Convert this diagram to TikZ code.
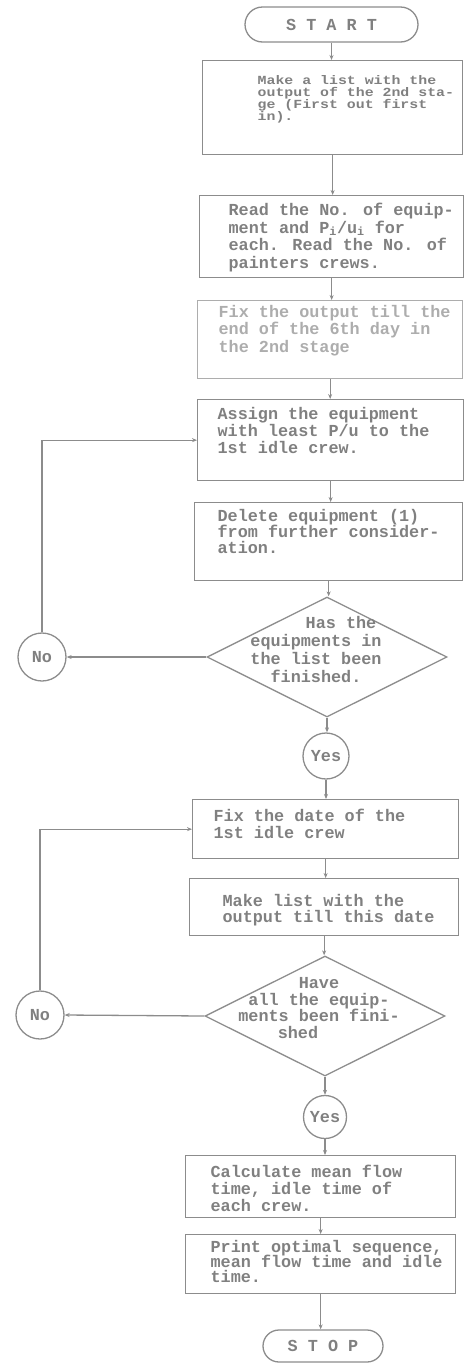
\documentclass[tikz,border=0pt]{standalone}
\usepackage{fontspec}
\newfontfamily\dmfont{Liberation Mono}[BoldFont={Liberation Mono Bold}]
\newfontfamily\dmwide{Liberation Mono}[FakeStretch=1.2]
\usetikzlibrary{shapes.geometric,shapes.misc,arrows.meta}
\definecolor{ink}{gray}{0.55}
\definecolor{txt}{gray}{0.5}
\definecolor{pale}{gray}{0.68}
% width, height, first baseline from top, left inset, font size, baselineskip, text
\newcommand{\bxt}[7]{%
  \parbox[c][#2][t]{#1}{\fontsize{#5}{#6}\selectfont\lineskiplimit=-100pt
    \vspace*{\dimexpr#3-13pt\relax}\leftskip=#4\relax\rightskip=0pt plus 1fil
    \parfillskip=0pt plus 1fil\parindent=0pt\noindent\rule{0pt}{13pt}#7}}
\tikzset{
  every node/.style={font=\dmfont\bfseries, text=txt},
  proc/.style={draw=ink, line width=1.3pt, inner sep=0pt, anchor=north west},
  term/.style={draw=ink, line width=1.3pt, rounded rectangle, inner sep=0pt,
    font=\dmfont\bfseries\fontsize{16.8pt}{17pt}\selectfont},
  decision/.style={draw=ink, line width=1.3pt, diamond, inner sep=0pt,
    minimum width=240pt, minimum height=120pt},
  dlab/.style={align=center, inner sep=0pt, text=txt},
  yesno/.style={draw=ink, line width=1.3pt, circle, inner sep=0pt,
    font=\dmfont\bfseries\fontsize{16.8pt}{17pt}\selectfont},
  conn/.style={draw=ink, line width=1.3pt},
  flow/.style={conn, -{Stealth[length=5pt,width=4pt]}},
}
\begin{document}
\begin{tikzpicture}[x=1pt,y=-1pt]
\useasboundingbox (0,0) rectangle (466,1366);

\node[term, minimum width=173pt, minimum height=35pt] (start) at (331.5,24.5) {S T A R T};

\node[proc, font=\dmwide\bfseries] (b1) at (202,60) {\bxt{260pt}{94pt}{24pt}{55pt}{12.4pt}{12pt}{Make a list with the\\output of the 2nd sta-\\ge (First out first\\in).}};

\node[proc] (b2) at (199,195) {\bxt{264pt}{82pt}{20pt}{29pt}{16.8pt}{17.6pt}{Read the No. of equip-\\ment and P\textsubscript{i}/u\textsubscript{i} for\\each. Read the No. of\\painters crews.}};

\node[proc, draw=pale, text=pale] (b3) at (197,300) {\bxt{265pt}{78pt}{17pt}{21pt}{16.8pt}{17.3pt}{Fix the output till the\\end of the 6th day in\\the 2nd stage}};

\node[proc] (b4) at (197,399) {\bxt{266pt}{81pt}{20pt}{20pt}{16.8pt}{17pt}{Assign the equipment\\with least P/u to the\\1st idle crew.}};

\node[proc] (b5) at (194,502) {\bxt{268pt}{78pt}{19pt}{23pt}{16.8pt}{16pt}{Delete equipment (1)\\from further consider-\\ation.}};

\node[decision, label={[dlab, font=\dmfont\bfseries\fontsize{16.8pt}{17.7pt}\selectfont, xshift=-11pt, yshift=7.5pt]center:{\hspace*{50pt}Has the\\equipments in\\the list been\\finished.}}] (d1) at (327,657) {};

\node[yesno, minimum size=48pt] (no1) at (42,657) {No};
\node[yesno, minimum size=46pt] (y1) at (326,756) {Yes};

\node[proc] (b6) at (192,799) {\bxt{266pt}{59pt}{22pt}{21pt}{16.8pt}{16.5pt}{Fix the date of the\\1st idle crew}};

\node[proc] (b7) at (189,878) {\bxt{269pt}{57pt}{28pt}{33pt}{16.8pt}{16pt}{Make list with the\\output till this date}};

\node[decision, label={[dlab, font=\dmfont\bfseries\fontsize{16.8pt}{16.7pt}\selectfont, xshift=-6pt, yshift=8pt]center:{Have\\all the equip-\\ments been fini-\\shed\hspace*{42pt}}}] (d2) at (325,1016) {};

\node[yesno, minimum size=48pt] (no2) at (40,1015) {No};
\node[yesno, minimum size=43pt] (y2) at (325,1117) {Yes};

\node[proc] (b8) at (185,1155) {\bxt{270pt}{62pt}{22pt}{25pt}{16.8pt}{17pt}{Calculate mean flow\\time, idle time of\\each crew.}};

\node[proc] (b9) at (185,1234) {\bxt{270pt}{59pt}{18pt}{25pt}{16.8pt}{14.7pt}{Print optimal sequence,\\mean flow time and idle\\time.}};

\node[term, minimum width=120pt, minimum height=32pt] (stop) at (323,1346) {S T O P};

% main spine
\draw[flow] (start.south) -- (start.south |- b1.north);
\draw[flow] (b1.south) -- (b1.south |- b2.north);
\draw[flow] (b2.south) -- (b2.south |- b3.north);
\draw[flow] (b3.south) -- (b3.south |- b4.north);
\draw[flow] (b4.south) -- (b4.south |- b5.north);
\draw[flow] (b5.south) -- (b5.south |- d1.north);
\draw[flow] (d1.south) -- (d1.south |- y1.north);
\draw[flow] (y1.south) -- (y1.south |- b6.north);
\draw[flow] (b6.south) -- (b6.south |- b7.north);
\draw[flow] (b7.south) -- (b7.south |- d2.north);
\draw[flow] (d2.south) -- (d2.south |- y2.north);
\draw[flow] (y2.south) -- (y2.south |- b8.north);
\draw[flow] (b8.south) -- (b8.south |- b9.north);
\draw[flow] (b9.south) -- (b9.south |- stop.north);

% loops
\draw[flow] (d1.west) -- (no1.east);
\draw[flow] (no1.north) |- (b4.west);
\draw[flow] (d2.west) -- (no2.east);
\draw[flow] (no2.north) |- (b6.west);
\end{tikzpicture}
\end{document}
